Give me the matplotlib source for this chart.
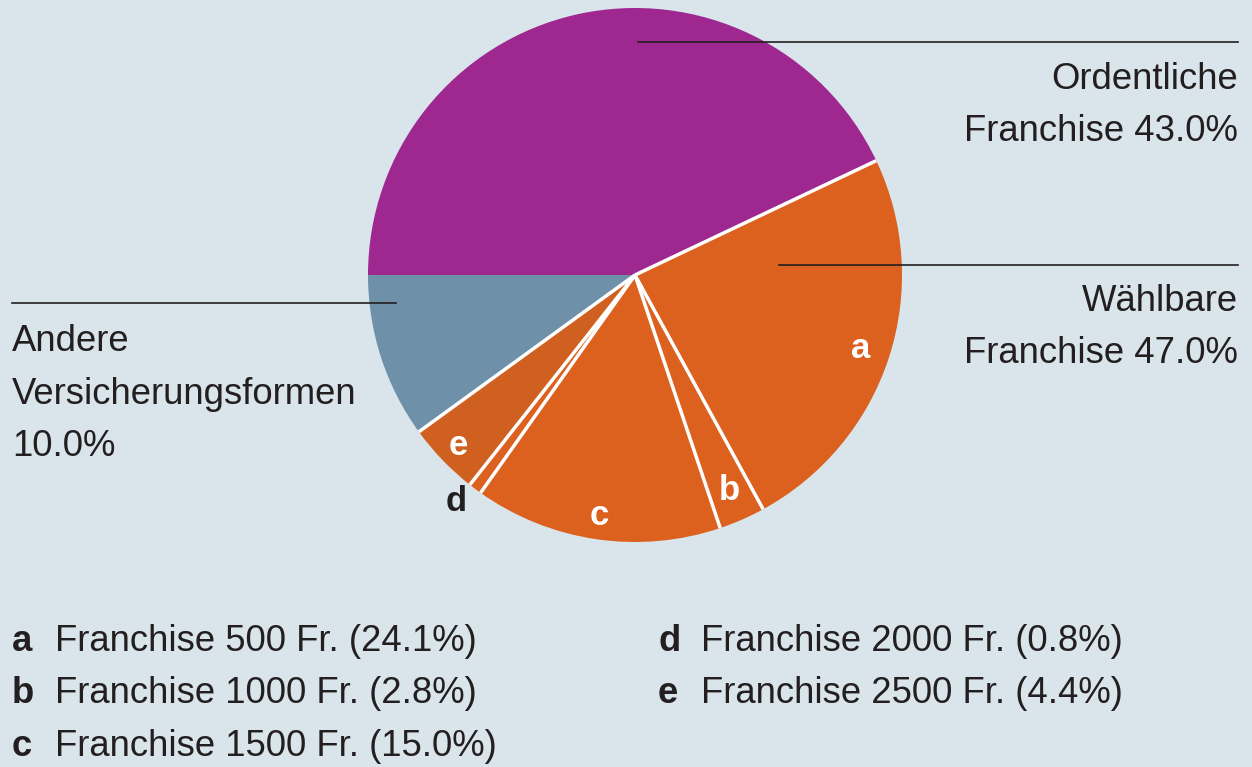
import numpy as np
import matplotlib.pyplot as plt

plt.rcParams['font.family'] = ['Liberation Sans', 'DejaVu Sans']

# pie segments, clockwise from 9 o'clock
segments = ["Ordentliche", "a", "b", "c", "d", "e", "Andere"]
shares = [43.0, 24.1, 2.8, 15.0, 0.8, 4.4, 10.0]
colors = ["#9E288F", "#DC601E", "#DC601E", "#DC601E", "#DC601E", "#D0601F", "#6E90A9"]

# big group labels
group_names = [["Ordentliche", "Franchise"], ["Wählbare", "Franchise"], ["Andere", "Versicherungsformen"]]
group_shares = [43.0, 47.0, 10.0]

# legend for the franchise levels
legend_letters = ["a", "b", "c", "d", "e"]
legend_names = ["Franchise 500 Fr.", "Franchise 1000 Fr.", "Franchise 1500 Fr.",
                "Franchise 2000 Fr.", "Franchise 2500 Fr."]
legend_shares = [24.1, 2.8, 15.0, 0.8, 4.4]

bg = "#D9E4EB"
ink = "#231F20"
W, H = 1252, 767

fig = plt.figure(figsize=(W / 100, H / 100), dpi=100, facecolor=bg)
ax = fig.add_axes([0, 0, 1, 1])
ax.set_facecolor(bg)

cx, cy, R = 635, H - 275, 267
ax.pie(shares, colors=colors, startangle=180, counterclock=False,
       center=(cx, cy), radius=R, wedgeprops=dict(edgecolor="none"))
ax.set_xlim(0, W)
ax.set_ylim(0, H)
ax.set_aspect("equal")
ax.axis("off")

# white separators (none between purple and blue)
frac = np.array(shares) / sum(shares)
bounds = 180 - 360 * np.cumsum(frac)
for th in bounds[:-1]:
    t = np.radians(th)
    ax.plot([cx, cx + R * np.cos(t)], [cy, cy + R * np.sin(t)], color="white", lw=2.5,
            solid_capstyle="butt")

# small letters inside the wedges
mids = 180 - 360 * (np.cumsum(frac) - frac / 2)
label_r = {"a": 0.89, "b": 0.88, "c": 0.91, "d": 1.08, "e": 0.92}
for seg, th in zip(segments, mids):
    if seg in label_r:
        t = np.radians(th)
        col = ink if seg == "d" else "white"
        if seg == "d":
            t = np.radians(th - 1.5)
        ax.text(cx + label_r[seg] * R * np.cos(t), cy + label_r[seg] * R * np.sin(t), seg,
                color=col, fontsize=25, fontweight="bold", ha="center", va="center")

fs = 26.3
# leader lines and group labels
ax.plot([638, 1238], [H - 42, H - 42], color=ink, lw=1.2)
ax.text(1238, H - 89, group_names[0][0], ha="right", va="baseline", fontsize=fs, color=ink)
ax.text(1238, H - 141, f"{group_names[0][1]} {group_shares[0]:.1f}%", ha="right",
        va="baseline", fontsize=fs, color=ink)

ax.plot([779, 1238], [H - 265, H - 265], color=ink, lw=1.2)
ax.text(1238, H - 311, group_names[1][0], ha="right", va="baseline", fontsize=fs, color=ink)
ax.text(1238, H - 363, f"{group_names[1][1]} {group_shares[1]:.1f}%", ha="right",
        va="baseline", fontsize=fs, color=ink)

ax.plot([12, 396], [H - 303, H - 303], color=ink, lw=1.2)
ax.text(12, H - 351, group_names[2][0], ha="left", va="baseline", fontsize=fs, color=ink)
ax.text(12, H - 404, group_names[2][1], ha="left", va="baseline", fontsize=fs, color=ink)
ax.text(12, H - 456, f"{group_shares[2]:.1f}%", ha="left", va="baseline", fontsize=fs, color=ink)

# legend, two columns
rows_y = [651, 703, 756]
for i, (let, name, val) in enumerate(zip(legend_letters, legend_names, legend_shares)):
    if i < 3:
        x0, y = 12, rows_y[i]
    else:
        x0, y = 658, rows_y[i - 3]
    ax.text(x0, H - y, let, ha="left", va="baseline", fontsize=fs, fontweight="bold", color=ink)
    ax.text(x0 + 43, H - y, f"{name} ({val:.1f}%)", ha="left", va="baseline", fontsize=fs,
            color=ink)

fig.savefig("out.png", dpi=100, facecolor=bg)
